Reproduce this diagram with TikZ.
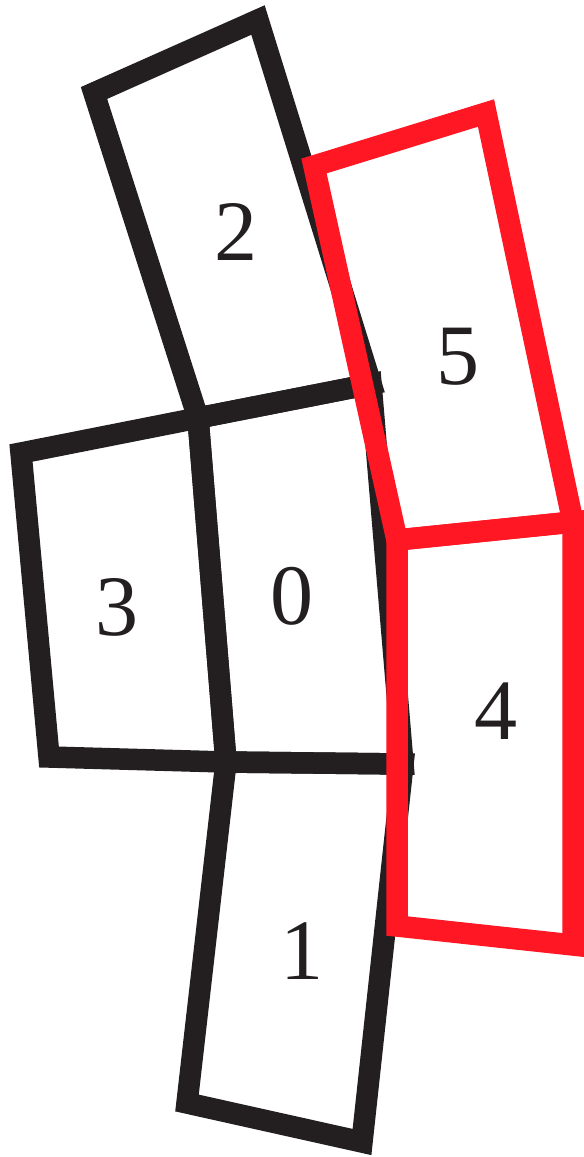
\documentclass[tikz,border=0pt]{standalone}
\usepackage{fontspec}
\setmainfont{Liberation Serif}
\usepackage{xcolor}
\definecolor{netblack}{RGB}{35, 31, 32}
\definecolor{netred}{RGB}{255, 23, 36}
\tikzstyle{cellblack} = [draw=netblack, line width=0.43cm, line join=miter]
\tikzstyle{cellred} = [draw=netred, line width=0.43cm, line join=miter]
\tikzstyle{cellnum} = [font=\fontsize{49}{49}\selectfont, text=netblack, inner sep=0pt]

\begin{document}
\begin{tikzpicture}[x=0.02cm, y=-0.02cm]
\useasboundingbox (0,0) rectangle (583,1157);

% Corners
\coordinate (jtop) at (198,418);
\coordinate (jbot) at (226,762);
\coordinate (c0tr) at (371,384);
\coordinate (c0br) at (403,764);

% Black cells
\draw[cellblack] (94,93) -- (258,20) -- (c0tr) -- (jtop) -- cycle;
\draw[cellblack] (21,453) -- (jtop) -- (jbot) -- (49,757) -- cycle;
\draw[cellblack] (jtop) -- (c0tr) -- (c0br) -- (jbot) -- cycle;
\draw[cellblack] (jbot) -- (c0br) -- (362,1142) -- (187,1103) -- cycle;

% Red cells
\draw[cellred] (314,166) -- (486,113) -- (573,522) -- (397,540) -- cycle;
\draw[cellred] (397,540) -- (573,522) -- (573,945) -- (397,926) -- cycle;

% Labels
\node[cellnum] (n2) at (236,232) {2};
\node[cellnum] (n5) at (458,357) {5};
\node[cellnum] (n3) at (117,607) {3};
\node[cellnum] (n0) at (292,596) {0};
\node[cellnum] (n4) at (496,711) {4};
\node[cellnum] (n1) at (302,951) {1};

\end{tikzpicture}
\end{document}
